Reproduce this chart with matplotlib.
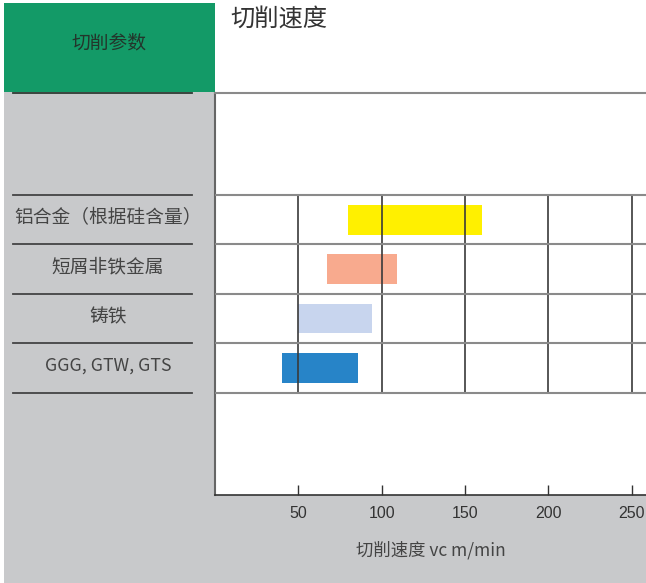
"""Cutting speed ranges per material group"""
import matplotlib
matplotlib.use('Agg')
import matplotlib.pyplot as plt
from matplotlib.patches import Rectangle
from matplotlib.transforms import blended_transform_factory

plt.rcParams['font.family'] = ['Noto Sans CJK SC', 'DejaVu Sans']

# data
materials = ['铝合金（根据硅含量）', '短屑非铁金属', '铸铁', 'GGG, GTW, GTS']
vc_min = [80, 67, 50, 40]
vc_max = [160, 109, 94, 86]
bar_colors = ['#FFF000', '#F8AA8E', '#C8D5EE', '#2784C8']
speed_ticks = [50, 100, 150, 200, 250]

title = '切削速度'
header = '切削参数'
xlabel = '切削速度 vc m/min'

W, H = 646, 583
GRAY = '#C8C9CB'
GREEN = '#139A67'

fig = plt.figure(figsize=(W / 100, H / 100), dpi=100)
fig.patch.set_facecolor('white')

# background layer in pixel units
bg = fig.add_axes([0, 0, 1, 1], zorder=0)
bg.set_xlim(0, W)
bg.set_ylim(H, 0)
bg.axis('off')
bg.add_patch(Rectangle((4, 92), 211, H - 92, color=GRAY, lw=0))
bg.add_patch(Rectangle((4, 495), W - 4, H - 495, color=GRAY, lw=0))
bg.add_patch(Rectangle((4, 3), 211, 89, color=GREEN, lw=0))
bg.plot([13, 192], [92.5, 92.5], color='#2E3A33', lw=1.3)
bg.text(109, 43, header, ha='center', va='center', fontsize=13.5, color='#23352B')
bg.text(230, 19, title, ha='left', va='center', fontsize=17.5, color='#333333',
        fontweight='light')

# main chart
ax = fig.add_axes([215 / W, (H - 495) / H, (W - 215) / W, (495 - 93) / H], zorder=1)
ax.set_facecolor('white')
ax.set_xlim(0, 258.6)
ax.set_ylim(5.57, -2.565)

rows = list(range(len(materials)))
bounds = [r - 0.5 for r in rows] + [rows[-1] + 0.5]

ax.barh(rows, [b - a for a, b in zip(vc_min, vc_max)], left=vc_min, height=0.6,
        color=bar_colors, zorder=2)

ax.vlines(speed_ticks, bounds[0], bounds[-1], color='#3A3A3A', lw=1.2, zorder=3)
ax.hlines(bounds, 0, 258.6, color='#8A8A8A', lw=1.5, zorder=3)

ax.spines['right'].set_visible(False)
ax.spines['top'].set_color('#8A8A8A')
ax.spines['top'].set_linewidth(1.5)
ax.spines['left'].set_color('#666666')
ax.spines['left'].set_linewidth(1.5)
ax.spines['bottom'].set_color('#333333')
ax.spines['bottom'].set_linewidth(1.2)

ax.set_yticks([])
ax.set_xticks(speed_ticks)
ax.set_xticklabels([str(t) for t in speed_ticks], family=['Liberation Sans'],
                   fontsize=11.5, color='#333333')
ax.tick_params(axis='x', direction='in', length=7, width=1, color='#333333', pad=8)
ax.set_xlabel(xlabel, fontsize=12.5, color='#444444', labelpad=14)

# row labels and separators in the left panel
trans = blended_transform_factory(bg.transData, ax.transData)
for r, name in zip(rows, materials):
    fs = 12.8 if name.isascii() else 13.5
    fig.text(108, r - 0.04, name, transform=trans, ha='center', va='center',
             fontsize=fs, color='#444444')
for b in bounds:
    fig.add_artist(plt.Line2D([13, 192], [b, b], transform=trans, color='#444444', lw=1.3))

fig.savefig('out.png', dpi=100)
